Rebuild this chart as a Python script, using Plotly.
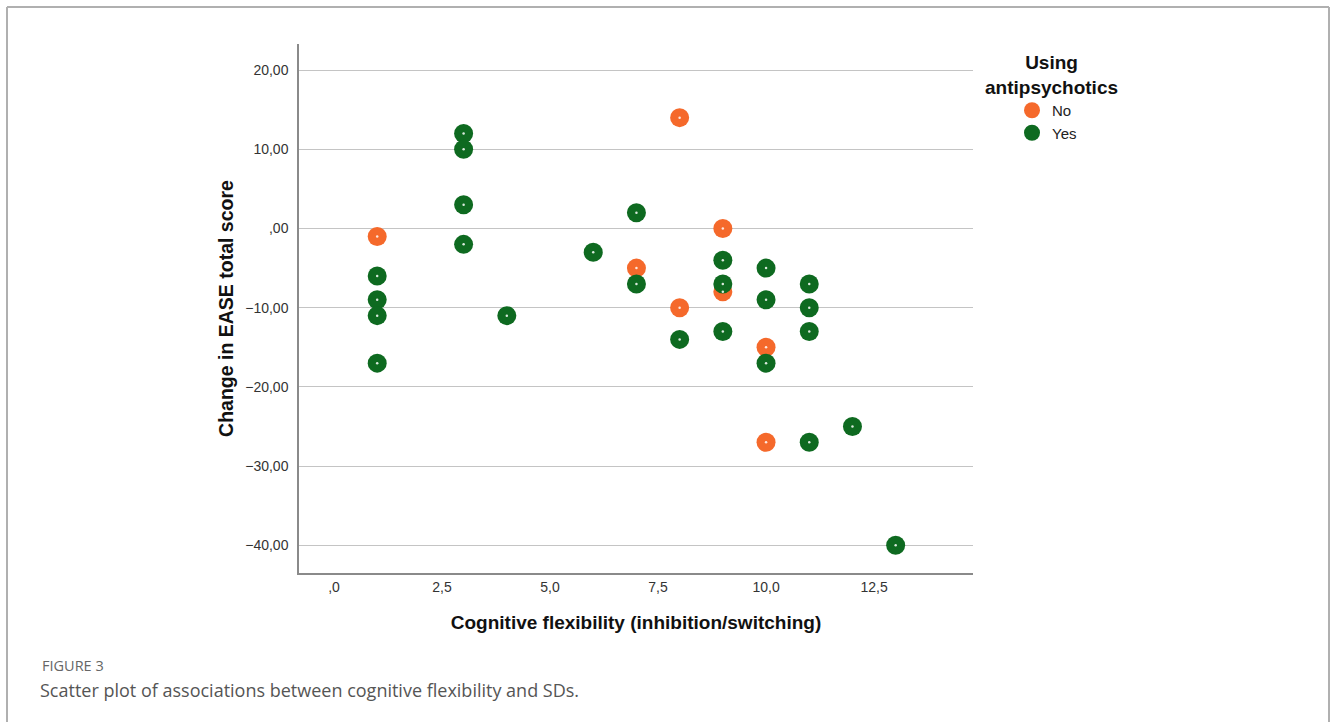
import plotly.graph_objects as go

# Data
no_x = [1, 7, 8, 8, 9, 9, 10, 10]
no_y = [-1, -5, 14, -10, 0, -8, -15, -27]
yes_x = [1, 1, 1, 1, 3, 3, 3, 3, 4, 6, 7, 7, 8, 9, 9, 9, 10, 10, 10, 11, 11, 11, 11, 12, 13]
yes_y = [-6, -9, -11, -17, 12, 10, 3, -2, -11, -3, 2, -7, -14, -4, -7, -13, -5, -9, -17, -7, -10, -13, -27, -25, -40]

x_tickvals = [0, 2.5, 5, 7.5, 10, 12.5]
x_ticktext = [",0", "2,5", "5,0", "7,5", "10,0", "12,5"]
y_tickvals = [20, 10, 0, -10, -20, -30, -40]
y_ticktext = ["20,00", "10,00", ",00", "−10,00", "−20,00", "−30,00", "−40,00"]

ORANGE = "#f5692b"
GREEN = "#0e6a20"

fig = go.Figure()
fig.add_trace(go.Scatter(x=no_x, y=no_y, mode="markers", name="No",
                         marker=dict(color=ORANGE, size=19, line=dict(width=0))))
fig.add_trace(go.Scatter(x=yes_x, y=yes_y, mode="markers", name="Yes",
                         marker=dict(color=GREEN, size=19, line=dict(width=0))))
# small white centre dots
fig.add_trace(go.Scatter(x=no_x + yes_x, y=no_y + yes_y, mode="markers", showlegend=False,
                         hoverinfo="skip",
                         marker=dict(color="rgba(255,255,255,0.85)", size=2.5, line=dict(width=0))))

fig.update_layout(
    width=1330, height=722,
    margin=dict(l=299, r=357, t=44, b=149, autoexpand=False),
    paper_bgcolor="white", plot_bgcolor="white",
    font=dict(family="Liberation Sans, Arial, sans-serif", color="#222"),
    showlegend=True,
    legend=dict(x=(1012 - 299) / 674, y=1 - (94 - 44) / 529, xanchor="left", yanchor="top",
                font=dict(size=15, color="#222", family="Liberation Sans, Arial, sans-serif"),
                itemsizing="trace", tracegroupgap=0, itemwidth=30, bgcolor="rgba(0,0,0,0)"),
    xaxis=dict(range=[-0.81, 14.79], tickvals=x_tickvals, ticktext=x_ticktext,
               showgrid=False, zeroline=False, showline=True, linecolor="#8a8a8a", linewidth=1.5,
               ticks="",
               tickfont=dict(size=14, color="#333"),
               title=dict(text="<b>Cognitive flexibility (inhibition/switching)</b>",
                          font=dict(size=19, color="#111"), standoff=22)),
    yaxis=dict(range=[-43.5, 23.3], tickvals=y_tickvals, ticktext=y_ticktext,
               showgrid=True, gridcolor="#c4c4c4", gridwidth=1.4, zeroline=False,
               showline=True, linecolor="#8a8a8a", linewidth=1.5,
               ticks="outside", ticklen=6, tickcolor="rgba(0,0,0,0)",
               tickfont=dict(size=14, color="#333"),
               title=dict(text="<b>Change in EASE total score</b>",
                          font=dict(size=19.5, color="#111"), standoff=6)),
)

# legend title
fig.add_annotation(text="<b>Using<br>antipsychotics</b>", xref="paper", yref="paper",
                   x=(1051 - 299) / 674, y=1 - (50 - 44) / 529, xanchor="center", yanchor="top",
                   showarrow=False, align="center",
                   font=dict(size=19, color="#111", family="Liberation Sans, Arial, sans-serif"))

# caption
fig.add_annotation(text="FIGURE 3", xref="paper", yref="paper",
                   x=(40 - 299) / 674, y=1 - (665 - 44) / 529, xanchor="left", yanchor="middle",
                   showarrow=False, font=dict(size=14.5, color="#666", family="Open Sans, sans-serif"))
fig.add_annotation(text="Scatter plot of associations between cognitive flexibility and SDs.",
                   xref="paper", yref="paper",
                   x=(38 - 299) / 674, y=1 - (690 - 44) / 529, xanchor="left", yanchor="middle",
                   showarrow=False, font=dict(size=18, color="#555", family="Open Sans, sans-serif"))

# outer frame (top, left, right)
px = lambda v: (v - 299) / 674
py = lambda v: 1 - (v - 44) / 529
for x0, y0, x1, y1 in [(7, 7, 1329, 7), (7, 7, 7, 722), (1329, 7, 1329, 722)]:
    fig.add_shape(type="line", xref="paper", yref="paper",
                  x0=px(x0), y0=py(y0), x1=px(x1), y1=py(y1),
                  line=dict(color="#b0b0b0", width=2))

fig.write_html("out.html", config={"displayModeBar": False},
               post_script="document.body.style.margin='0';document.body.style.overflow='hidden';")
